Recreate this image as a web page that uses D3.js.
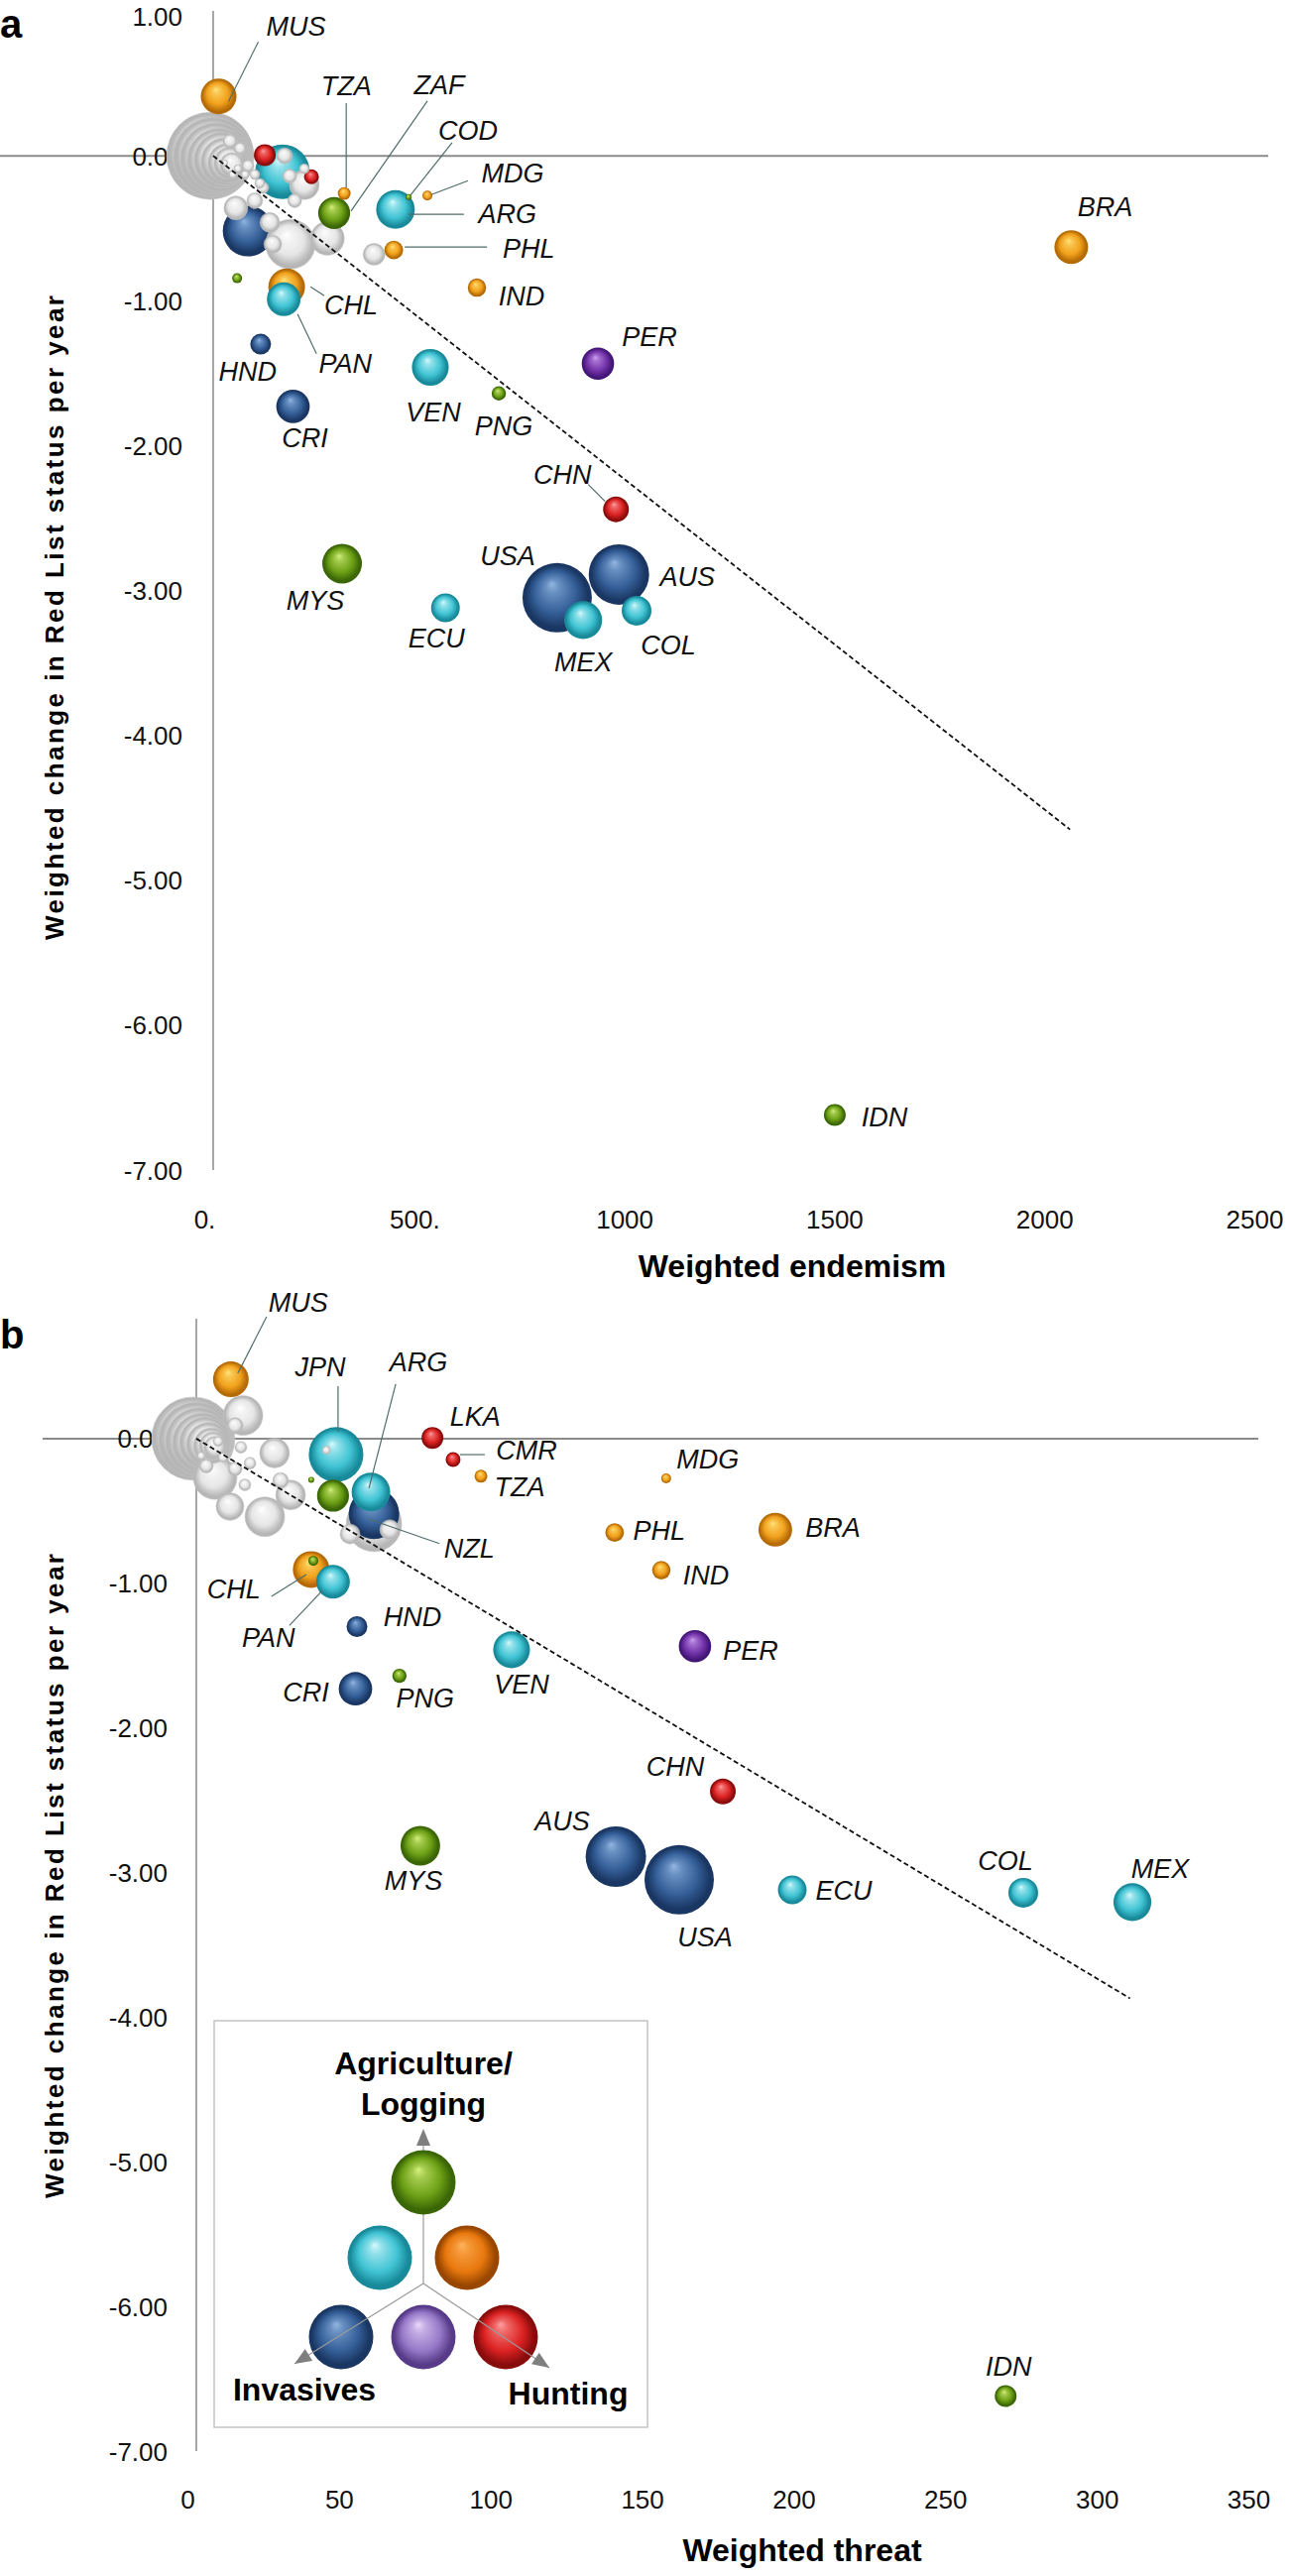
<!DOCTYPE html>
<html>
<head>
<meta charset="utf-8">
<script src="https://cdn.jsdelivr.net/npm/d3@7"></script>
<style>
  body { margin: 0; background: #fff; }
  svg text { font-family: "Liberation Sans", Arial, sans-serif; }
</style>
</head>
<body>
<svg id="chart" width="1301" height="2598"></svg>
<script>
// ---- data ----
const countries = ["MUS","TZA","ZAF","COD","MDG","ARG","PHL","IND","CHL","PAN","HND","CRI","VEN","PNG","PER",
                   "CHN","USA","AUS","MEX","COL","ECU","MYS","BRA","IDN","JPN","LKA","CMR","NZL","G1"];
// dominant threat: agri, hunt, inv, agriHunt, agriInv, invHunt
const threatClass = ["agriHunt","agriHunt","agri","agri","agriHunt","agriInv","agriHunt","agriHunt","agriHunt","agriInv","inv","inv","agriInv","agri","invHunt",
                     "hunt","inv","inv","agriInv","agriInv","agriInv","agri","agriHunt","agri","agriInv","hunt","hunt","inv","agri"];
const redListChange = [0.41,-0.26,-0.395,-0.285,-0.275,-0.37,-0.65,-0.91,-0.905,-0.99,-1.30,-1.73,-1.46,-1.64,-1.435,
                       -2.44,-3.05,-2.89,-3.205,-3.14,-3.12,-2.815,-0.63,-6.62,-0.11,0.005,-0.145,-0.52,-0.845];
const bubbleSize = [324,42,260,9,25,380,88,86,342,289,110,285,345,52,266,
                    169,1225,930,365,225,210,400,289,121,760,121,56,650,25];
const endemism = [13,312,288,465,510,434,430,628,175,168,113,190,517,680,916,
                  959,819,966,881,1008,553,307,2043,1480,165,123,234,83,57];
const threat = [11.4,93.9,45.1,37.9,155,57.6,138,153.4,37.9,45.1,53,52.5,104,67,164.5,
                173.7,159.3,138.4,308.8,272.8,196.6,73.9,191,267,46.1,77.9,84.7,58.6,38.6];

// unlabelled countries (grey), [x, y, size]
const greyEndemism = [
  [-7,0.00,1936],[0,-0.01,1600],[7,-0.02,1296],[14,-0.03,1024],[21,-0.03,784],[28,-0.04,576],[35,-0.05,400],[40,-0.05,256],[45,-0.06,144],
  [184,-0.61,625],[272,-0.57,289],[54,-0.36,144],[135,-0.46,100],[142,-0.61,81],[99,-0.31,64],[170,0.0,64],[182,-0.14,49],
  [194,-0.31,49],[217,-0.09,25],[40,0.10,49],[64,0.05,36],[83,-0.07,36],[59,-0.09,16],[99,-0.13,25],[111,-0.19,25],
  [76,-0.13,16],[47,-0.13,16],[28,-0.05,9],[383,-0.68,121],[217,-0.20,225],[118,-0.22,36]
];
const greyThreat = [
  [-1,0,1764],[0,-0.01,1444],[1,-0.02,1156],[2,-0.03,900],[3,-0.03,676],[4,-0.04,484],[5,-0.05,324],[5.6,-0.05,196],[6.2,-0.06,121],
  [15.4,0.16,400],[12.8,0.09,64],[25.8,-0.10,225],[11.1,-0.47,196],[22.6,-0.54,400],[31.1,-0.39,225],[27.8,-0.29,64],
  [16,-0.32,36],[3.3,-0.19,49],[12.8,-0.21,49],[14.7,-0.06,36],[17.7,-0.17,36],[7.2,-0.02,25],[8.8,-0.13,25],[1.6,-0.12,16],
  [6.2,-0.27,484],[63.8,-0.63,100],[50.7,-0.66,100],[58.6,-0.59,784],[42.9,-0.08,16]
];

const trendEndemism = [[0,0],[2040,-4.65]];
const trendThreat = [[0,0],[308,-3.87]];

const yTicksA = [1,0,-1,-2,-3,-4,-5,-6,-7];
const yTicksB = [0,-1,-2,-3,-4,-5,-6,-7];
const endemismTicks = [0,500,1000,1500,2000,2500];
const endemismTickLabels = ["0.","500.","1000","1500","2000","2500"];
const threatTicks = [0,50,100,150,200,250,300,350];
const threatTickLabels = ["0","50","100","150","200","250","300","350"];

const legendClasses = ["agri","agriInv","agriHunt","inv","invHunt","hunt"];

// ---- styles / layout ----
const palette = {
  agri:     {hl:"#d4f07e", base:"#6da116", dark:"#3b6606"},
  hunt:     {hl:"#ffa0a0", base:"#dc2222", dark:"#880c0c"},
  inv:      {hl:"#92b6e2", base:"#345f98", dark:"#1a3662"},
  agriHunt: {hl:"#ffe57c", base:"#f1a11c", dark:"#b46a06"},
  agriInv:  {hl:"#d6f9fc", base:"#41c4d4", dark:"#188a9a"},
  invHunt:  {hl:"#cba0ef", base:"#7434aa", dark:"#431676"},
  other:    {hl:"#ffffff", base:"#e6e6e6", dark:"#b6b6b6"},
  legAgriHunt: {hl:"#ffb45c", base:"#e8780e", dark:"#984600"},
  legInvHunt:  {hl:"#ead8fb", base:"#9678c8", dark:"#573a88"}
};

// label offsets from bubble centre; optional leader [x1,y1,x2,y2] relative to bubble centre
const labelsA = {
  MUS:[78,-71,[40,-55,10,5]], TZA:[2,-109,[2,-91,2,-6]], ZAF:[106,-129,[94,-113,17,-2]],
  COD:[60,-67,[44,-55,2,-2]], MDG:[86,-23,[41,-15,4,-1]], ARG:[113,4,[13,5,69,5]],
  PHL:[136,-2,[11,-3,94,-3]], IND:[45,8], CHL:[65,18,[24,0,38,9]], PAN:[62,65,[14,15,33,55]],
  HND:[-13,27], CRI:[12,32], VEN:[3,45], PNG:[5,33], PER:[52,-27], CHN:[-54,-35,[-28,-25,-11,-8]],
  USA:[-50,-42], AUS:[69,2], MEX:[0,42], COL:[32,35], ECU:[-9,31], MYS:[-27,37], BRA:[34,-41], IDN:[50,2]
};
const labelsB = {
  MUS:[68,-78,[36,-63,7,-6]], JPN:[-16,-88,[2,-69,2,-23]], ARG:[48,-131,[25,-109,-2,-4]],
  LKA:[43,-22], CMR:[74,-9,[7,-5,32,-5]], TZA:[39,11], NZL:[96,35,[-6,5,66,30]],
  MDG:[42,-19], PHL:[45,-2], BRA:[58,-2], IND:[45,5], PER:[56,4],
  CHL:[-78,20,[-40,27,-5,5]], PAN:[-65,56,[-44,44,-11,9]], HND:[56,-10], CRI:[-50,3],
  PNG:[26,22], VEN:[10,35], CHN:[-48,-25], AUS:[-54,-36], USA:[26,58], MYS:[-7,35],
  ECU:[52,1], COL:[-18,-32], MEX:[28,-34], IDN:[3,-30]
};

const panels = [
  { letter:"a", letterY:38, xs:endemism, grey:greyEndemism, trend:trendEndemism,
    x:d3.scaleLinear().domain([0,2500]).range([215,1274]),
    y:d3.scaleLinear().domain([-7,1]).range([1180,11]),
    xTicks:endemismTicks, xTickLabels:endemismTickLabels, yTicks:yTicksA,
    zeroLine:[0,1279], yAxisTop:11, tickLabelX:184, xLabelY:1230,
    xTitle:"Weighted endemism", xTitleX:799, xTitleY:1288, yTitleY:623, labels:labelsA },
  { letter:"b", letterY:1360, xs:threat, grey:greyThreat, trend:trendThreat,
    x:d3.scaleLinear().domain([0,350]).range([198,1268]),
    y:d3.scaleLinear().domain([-7,1]).range([2472,1305]),
    xTicks:threatTicks, xTickLabels:threatTickLabels, yTicks:yTicksB,
    zeroLine:[43,1269], yAxisTop:1330, tickLabelX:169, xLabelY:2521,
    xTitle:"Weighted threat", xTitleX:809, xTitleY:2583, yTitleY:1892, labels:labelsB }
];

const svg = d3.select("#chart");
const defs = svg.append("defs");
const r = d3.scaleSqrt().domain([0, 1225]).range([0, 35]);

// 3-D looking sphere fills
Object.entries(palette).forEach(([key, c]) => {
  const g = defs.append("radialGradient")
    .attr("id", "sph-" + key)
    .attr("cx", "50%").attr("cy", "50%").attr("r", "50%")
    .attr("fx", "42%").attr("fy", "30%");
  const mid = d3.interpolateRgb(c.hl, c.base)(0.45);
  [[0, c.hl], [0.2, mid], [0.6, c.base], [0.9, c.dark], [1, c.dark]].forEach(([o, col]) => {
    g.append("stop").attr("offset", o).attr("stop-color", col);
  });
});

panels.forEach(p => {
  const g = svg.append("g");

  // panel letter
  g.append("text").attr("x", 0).attr("y", p.letterY)
    .attr("font-size", 40).attr("font-weight", "bold").text(p.letter);

  // axes lines
  g.append("line")
    .attr("x1", p.zeroLine[0]).attr("x2", p.zeroLine[1])
    .attr("y1", p.y(0)).attr("y2", p.y(0))
    .attr("stroke", "#8a8a8a").attr("stroke-width", 2);
  g.append("line")
    .attr("x1", p.x(0)).attr("x2", p.x(0))
    .attr("y1", p.yAxisTop).attr("y2", p.y(-7))
    .attr("stroke", "#8a8a8a").attr("stroke-width", 1.5);

  // y tick labels
  const yAxis = d3.axisLeft(p.y).tickValues(p.yTicks).tickSize(0).tickPadding(0)
    .tickFormat(v => v.toFixed(2));
  const ya = g.append("g").attr("transform", `translate(${p.tickLabelX},0)`).call(yAxis);
  ya.select(".domain").remove();
  ya.selectAll("text").attr("x", 0)
    .attr("dy", d => d === 1 ? "0.55em" : "0.35em")
    .attr("font-size", 26).attr("font-family", "Liberation Sans, Arial, sans-serif").attr("fill", "#111");

  // x tick labels
  const xAxis = d3.axisBottom(p.x).tickValues(p.xTicks).tickSize(0).tickPadding(0)
    .tickFormat((v, i) => p.xTickLabels[i]);
  const xa = g.append("g").attr("transform", `translate(-9,${p.xLabelY})`).call(xAxis);
  xa.select(".domain").remove();
  xa.selectAll("text").attr("y", 0).attr("dy", "0.35em")
    .attr("font-size", 26).attr("font-family", "Liberation Sans, Arial, sans-serif").attr("fill", "#111");

  // axis titles
  g.append("text").attr("x", p.xTitleX).attr("y", p.xTitleY)
    .attr("text-anchor", "middle").attr("font-size", 32).attr("font-weight", "bold")
    .text(p.xTitle);
  g.append("text")
    .attr("transform", `translate(55,${p.yTitleY}) rotate(-90)`)
    .attr("text-anchor", "middle").attr("dy", "0.35em")
    .attr("font-family", "DejaVu Sans, Verdana, sans-serif")
    .attr("font-size", 26).attr("font-weight", "bold")
    .attr("textLength", 650).attr("lengthAdjust", "spacing")
    .text("Weighted change in Red List status per year");

  // bubbles, biggest first; USA sits in front of AUS
  const items = countries.map((c, i) => ({code:c, cls:threatClass[i], x:p.xs[i], y:redListChange[i], s:bubbleSize[i]}))
    .concat(p.grey.map(d => ({code:null, cls:"other", x:d[0], y:d[1], s:d[2]})));
  items.sort((a, b) => b.s - a.s);
  const usa = items.splice(items.findIndex(d => d.code === "USA"), 1)[0];
  items.splice(items.findIndex(d => d.code === "AUS") + 1, 0, usa);

  g.append("g").selectAll("circle")
    .data(items)
    .join("circle")
    .attr("cx", d => p.x(d.x))
    .attr("cy", d => p.y(d.y))
    .attr("r", d => r(d.s))
    .attr("fill", d => `url(#sph-${d.cls})`)
    .attr("stroke", d => d.cls === "other" ? "#c4c4c4" : "none")
    .attr("stroke-width", 0.5);

  // trend line
  g.append("path")
    .datum(p.trend)
    .attr("d", d3.line().x(d => p.x(d[0])).y(d => p.y(d[1])))
    .attr("fill", "none").attr("stroke", "#111")
    .attr("stroke-width", 1.8).attr("stroke-dasharray", "5,3");

  // labels and leaders
  const lab = Object.entries(p.labels).map(([code, o]) => {
    const i = countries.indexOf(code);
    return {code, cx:p.x(p.xs[i]), cy:p.y(redListChange[i]), o};
  });
  g.append("g").selectAll("line")
    .data(lab.filter(d => d.o[2]))
    .join("line")
    .attr("x1", d => d.cx + d.o[2][0]).attr("y1", d => d.cy + d.o[2][1])
    .attr("x2", d => d.cx + d.o[2][2]).attr("y2", d => d.cy + d.o[2][3])
    .attr("stroke", "#4f6d6b").attr("stroke-width", 1.2);
  g.append("g").selectAll("text")
    .data(lab)
    .join("text")
    .attr("x", d => d.cx + d.o[0]).attr("y", d => d.cy + d.o[1])
    .attr("dy", "0.35em").attr("text-anchor", "middle")
    .attr("font-size", 27).attr("font-style", "italic").attr("fill", "#111")
    .text(d => d.code);
});

// ---- legend (panel b) ----
const leg = svg.append("g").attr("transform", "translate(216,2038)");
leg.append("rect").attr("width", 437).attr("height", 410)
  .attr("fill", "#fff").attr("stroke", "#c4c4c4").attr("stroke-width", 1.5);
const hub = [211, 265];
const legendPos = {agri:[211,163], agriInv:[167,239], agriHunt:[255,239], inv:[128,319], invHunt:[211,319], hunt:[294,319]};
const arrowTips = [[211,109], [81,346], [338,350]];
leg.append("line").attr("x1", hub[0]).attr("y1", hub[1]).attr("x2", 211).attr("y2", 125)
  .attr("stroke", "#9a9a9a").attr("stroke-width", 1.2);
leg.selectAll("circle")
  .data(legendClasses)
  .join("circle")
  .attr("cx", d => legendPos[d][0]).attr("cy", d => legendPos[d][1])
  .attr("r", 32.5)
  .attr("fill", d => d === "agriHunt" ? "url(#sph-legAgriHunt)" : d === "invHunt" ? "url(#sph-legInvHunt)" : `url(#sph-${d})`);
leg.selectAll("line.diag")
  .data(arrowTips.slice(1))
  .join("line").attr("class", "diag")
  .attr("x1", hub[0]).attr("y1", hub[1])
  .attr("x2", d => d[0]).attr("y2", d => d[1])
  .attr("stroke", "#9a9a9a").attr("stroke-width", 1.2);
// arrowheads
leg.selectAll("path.head")
  .data(arrowTips)
  .join("path").attr("class", "head")
  .attr("d", d => {
    const dx = d[0] - hub[0], dy = d[1] - hub[1];
    const len = Math.hypot(dx, dy), ux = dx / len, uy = dy / len;
    const bx = d[0] - ux * 17, by = d[1] - uy * 17;
    return `M${d[0]},${d[1]}L${bx - uy * 7},${by + ux * 7}L${bx + uy * 7},${by - ux * 7}Z`;
  })
  .attr("fill", "#7f7f7f");
leg.append("text").attr("x", 211).attr("y", 54).attr("text-anchor", "middle")
  .attr("font-size", 32).attr("font-weight", "bold").text("Agriculture/");
leg.append("text").attr("x", 211).attr("y", 95).attr("text-anchor", "middle")
  .attr("font-size", 32).attr("font-weight", "bold").text("Logging");
leg.append("text").attr("x", 91).attr("y", 383).attr("text-anchor", "middle")
  .attr("font-size", 32).attr("font-weight", "bold").text("Invasives");
leg.append("text").attr("x", 357).attr("y", 387).attr("text-anchor", "middle")
  .attr("font-size", 32).attr("font-weight", "bold").text("Hunting");
</script>
</body>
</html>
